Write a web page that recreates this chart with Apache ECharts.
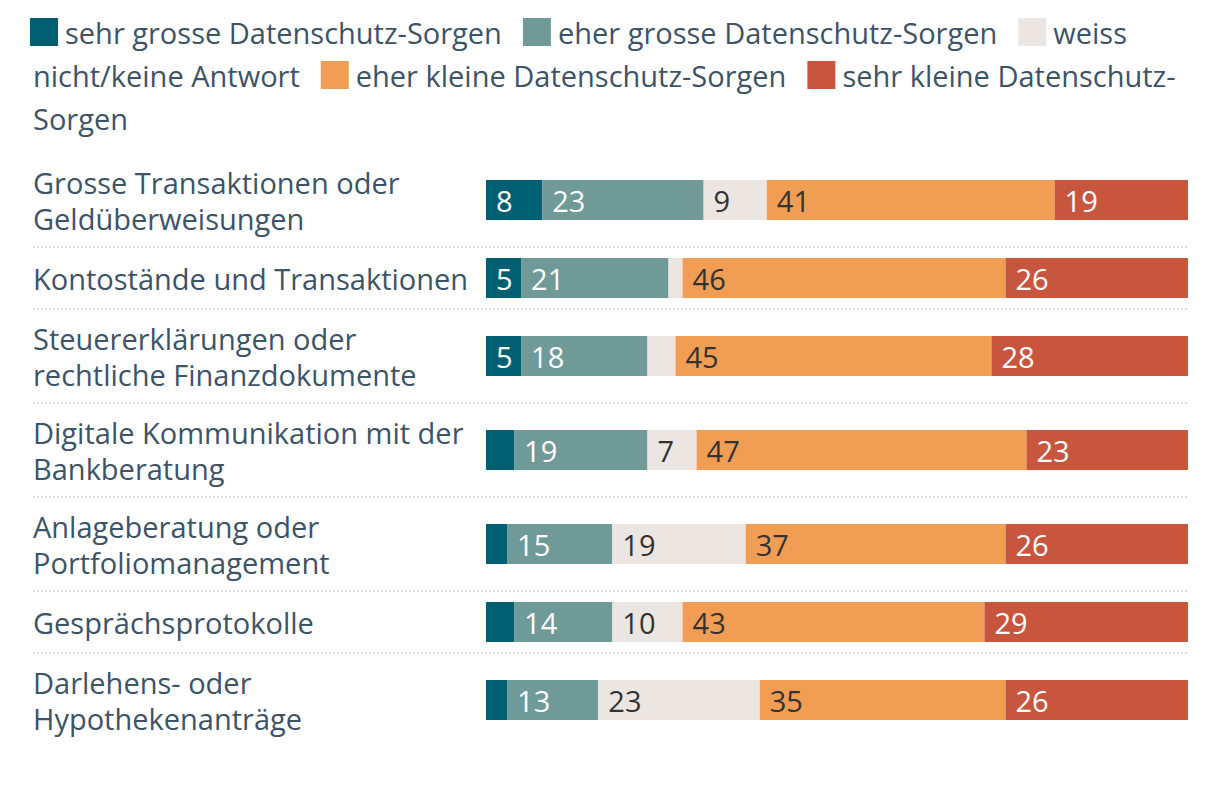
<!DOCTYPE html>
<html>
<head>
<meta charset="utf-8">
<script src="https://cdn.jsdelivr.net/npm/echarts/dist/echarts.min.js"></script>
<style>html,body{margin:0;padding:0;background:#fff}#c{width:1220px;height:786px}</style>
</head>
<body>
<div id="c"></div>
<script>
// ---- data ----
const categories = [
  "Grosse Transaktionen oder\nGeldüberweisungen",
  "Kontostände und Transaktionen",
  "Steuererklärungen oder\nrechtliche Finanzdokumente",
  "Digitale Kommunikation mit der\nBankberatung",
  "Anlageberatung oder\nPortfoliomanagement",
  "Gesprächsprotokolle",
  "Darlehens- oder\nHypothekenanträge"
];
const seriesNames = [
  "sehr grosse Datenschutz-Sorgen",
  "eher grosse Datenschutz-Sorgen",
  "weiss nicht/keine Antwort",
  "eher kleine Datenschutz-Sorgen",
  "sehr kleine Datenschutz-Sorgen"
];
const sehrGrosse = [8, 5, 5, 4, 3, 4, 3];
const eherGrosse = [23, 21, 18, 19, 15, 14, 13];
const weissNicht = [9, 2, 4, 7, 19, 10, 23];
const eherKleine = [41, 46, 45, 47, 37, 43, 35];
const sehrKleine = [19, 26, 28, 23, 26, 29, 26];
const values = [sehrGrosse, eherGrosse, weissNicht, eherKleine, sehrKleine];

// ---- styles ----
const colors = ['#005f70', '#6f9a98', '#ebe6e2', '#f29d54', '#c8563f'];
const labelColors = ['#ffffff', '#ffffff', '#333333', '#333333', '#ffffff'];
const TEXT = '#3d5366';
const FAM = '"Open Sans", "Noto Sans", sans-serif';

const ctx = document.createElement('canvas').getContext('2d');
function tw(s, fs) { ctx.font = fs + 'px "Open Sans"'; return ctx.measureText(s).width; }
const fs = Math.round(433 * 100 / tw('Kontostände und Transaktionen', 100) * 2) / 2;

const grids = [], xAxes = [], yAxes = [], series = [], graphics = [];
const BAR = 40;
let y = 153;
categories.forEach((cat, i) => {
  const lines = cat.split('\n').length;
  const h = lines > 1 ? 94 : 62;
  const top = y + (h - BAR) / 2;
  grids.push({ left: 486, right: 32, top: top, height: BAR, outerBoundsMode: 'none', containLabel: false });
  xAxes.push({ type: 'value', gridIndex: i, min: 0, max: 100, show: false });
  yAxes.push({
    type: 'category', gridIndex: i, data: [cat],
    axisLine: { show: false }, axisTick: { show: false }, splitLine: { show: false },
    axisLabel: { margin: 453, align: 'left', fontSize: fs, lineHeight: 36, color: TEXT, fontFamily: FAM }
  });
  y += h;
  if (i < categories.length - 1) {
    graphics.push({
      type: 'line', shape: { x1: 33, y1: y, x2: 1188, y2: y },
      style: { stroke: '#dcdcdc', lineWidth: 2, lineDash: [2, 2] }, silent: true
    });
  }
});

values.forEach((arr, s) => {
  categories.forEach((cat, i) => {
    series.push({
      type: 'bar', name: seriesNames[s], xAxisIndex: i, yAxisIndex: i, stack: 'row' + i,
      data: [arr[i]], barWidth: BAR, silent: true,
      itemStyle: { color: colors[s] },
      label: {
        show: true, position: 'insideLeft', distance: 10,
        formatter: p => (p.value >= 5 ? String(p.value) : ''),
        color: labelColors[s], fontSize: fs, fontFamily: FAM
      }
    });
  });
});

// ---- flowing legend ----
(function () {
  const maxX = 1192, lineH = 43, gap = 21, sq = 28, pad = 7;
  let lx = 30, ly = 32;
  seriesNames.forEach((name, k) => {
    const words = name.match(/[^ \-]+[\- ]?/g);
    if (lx + sq + pad + tw(words[0].trimEnd(), fs) > maxX) { lx = 30; ly += lineH; }
    graphics.push({ type: 'rect', shape: { x: lx, y: ly - 14, width: sq, height: sq }, style: { fill: colors[k] }, silent: true });
    let sx = lx + sq + pad, cur = '';
    words.forEach(w => {
      if (cur && sx + tw((cur + w).trimEnd(), fs) > maxX) {
        graphics.push({ type: 'text', x: sx, y: ly, style: { text: cur.trimEnd(), fill: TEXT, fontSize: fs, fontFamily: FAM, verticalAlign: 'middle', align: 'left' }, silent: true });
        ly += lineH; sx = 33; cur = w;
      } else cur += w;
    });
    graphics.push({ type: 'text', x: sx, y: ly, style: { text: cur.trimEnd(), fill: TEXT, fontSize: fs, fontFamily: FAM, verticalAlign: 'middle', align: 'left' }, silent: true });
    lx = sx + tw(cur.trimEnd(), fs) + gap;
  });
})();

const chart = echarts.init(document.getElementById('c'), null, { renderer: 'svg' });
chart.setOption({
  animation: false,
  backgroundColor: '#ffffff',
  textStyle: { fontFamily: FAM },
  grid: grids, xAxis: xAxes, yAxis: yAxes, series: series,
  graphic: graphics
});
</script>
</body>
</html>
